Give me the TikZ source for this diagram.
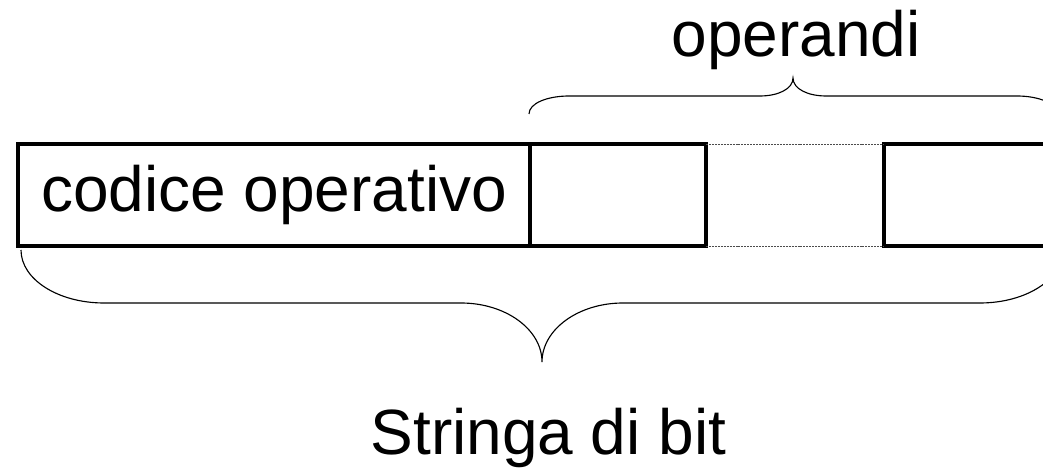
\documentclass[tikz,border=0pt]{standalone}
\usepackage{fontspec}
\setmainfont{Liberation Sans}
\usepackage{tikz}

\begin{document}
\begin{tikzpicture}
                \useasboundingbox (0,0) rectangle (26.075,11.725);
                \clip (0,0) rectangle (26.075,11.725);

                \tikzstyle{box}=[rectangle, draw, line width=3.5pt, outer sep=0pt, inner sep=0pt, minimum height=2.55cm, text centered, font=\fontsize{45.5}{52}\selectfont]
                \node[box, minimum width=12.8cm] (B1) at (6.85,6.85) {codice operativo};
                \node[box, minimum width=4.4cm] (B2) at (15.45,6.85) {};
                \node[box, minimum width=5.4cm] (B3) at (24.8,6.85) {};

                \tikzstyle{gap}=[line width=0.6pt, black!70, dash pattern=on 1.4pt off 0.7pt]
                \draw[gap] (B2.north east) -- (B3.north west);
                \draw[gap] (B2.south east) -- (B3.south west);

                \tikzstyle{brace}=[line width=0.8pt]
                % operandi
                \draw[brace] (13.225,8.875) .. controls (13.225,9.15) and (13.7,9.325) .. (14.225,9.325)
                    -- (19.0,9.325) .. controls (19.45,9.325) and (19.825,9.5) .. (19.825,9.775)
                    .. controls (19.825,9.5) and (20.2,9.325) .. (20.65,9.325)
                    -- (25.425,9.325) .. controls (25.95,9.325) and (26.425,9.15) .. (26.425,8.875);
                % stringa
                \draw[brace] (0.525,5.475) .. controls (0.525,4.74) and (1.455,4.15) .. (2.6,4.15)
                    -- (11.525,4.15) .. controls (12.64,4.15) and (13.55,3.49) .. (13.55,2.675)
                    .. controls (13.55,3.49) and (14.46,4.15) .. (15.575,4.15)
                    -- (24.5,4.15) .. controls (25.645,4.15) and (26.575,4.74) .. (26.575,5.475);

                \node[anchor=base, font=\fontsize{45.5}{52}\selectfont] (L1) at (19.9,10.3) {operandi};
                \node[anchor=base, font=\fontsize{45.5}{52}\selectfont] (L2) at (13.71,0.35) {Stringa di bit};
\end{tikzpicture}
\end{document}
